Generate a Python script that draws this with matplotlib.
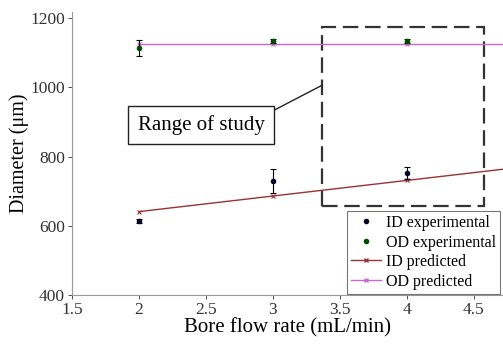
import matplotlib
matplotlib.use('Agg')
from matplotlib import pyplot as plt
from matplotlib.patches import Rectangle
from matplotlib.lines import Line2D

plt.rcParams['font.family'] = ['Liberation Serif', 'DejaVu Serif']

flow = [2, 3, 4]
id_exp = [615, 730, 753]
id_err = [6, 35, 17]
od_exp = [1113, 1133, 1133]
od_err = [23, 5, 5]
id_pred = [641, 686, 731]
od_pred = [1125, 1125, 1125]

# trend lines carried on to the right edge
line_x = [2, 4.72]
id_line = [641, 641 + 45 * 2.72]
od_line = [1125, 1125]

fig = plt.figure(figsize=(5.03, 3.44), dpi=100)
ax = fig.add_axes([0.143, 0.142, 0.857, 0.823])

ax.plot(line_x, id_line, color='#993333', lw=1.0)
ax.plot(line_x, od_line, color='#cc66cc', lw=1.0)
ax.plot(flow, id_pred, ls='none', marker='x', ms=3, mew=0.8, color='#993333')
ax.plot(flow, od_pred, ls='none', marker='x', ms=3, mew=0.8, color='#cc66cc')
ax.errorbar(flow, id_exp, yerr=id_err, fmt='o', ms=3, color='#000022', ecolor='black',
            elinewidth=0.8, capsize=2.5, capthick=0.8)
ax.errorbar(flow, od_exp, yerr=od_err, fmt='o', ms=3, color='#004d00', ecolor='black',
            elinewidth=0.8, capsize=2.5, capthick=0.8)

ax.set_xlim(1.5, 4.72)
ax.set_ylim(400, 1217)
ax.set_xticks([1.5, 2, 2.5, 3, 3.5, 4, 4.5])
ax.set_xticklabels(['1.5', '2', '2.5', '3', '3.5', '4', '4.5'])
ax.set_yticks([400, 600, 800, 1000, 1200])
ax.set_xlabel('Bore flow rate (mL/min)', fontsize=15, labelpad=0)
ax.set_ylabel('Diameter (\u03bcm)', fontsize=14.5, labelpad=1)
ax.tick_params(labelsize=12.5, colors='#333333', length=3, width=0.6, pad=2)
for side in ['top', 'right']:
    ax.spines[side].set_visible(False)
for side in ['left', 'bottom']:
    ax.spines[side].set_color('#999999')
    ax.spines[side].set_linewidth(0.8)

# range of study box
ax.add_patch(Rectangle((3.37, 658), 4.58 - 3.37, 1174 - 658, fill=False,
                       ls=(0, (7, 3)), lw=1.6, color='#333333', clip_on=False))
ax.annotate('Range of study', xy=(3.37, 1006), xytext=(2.94, 891),
            fontsize=15, ha='right', va='center',
            bbox=dict(boxstyle='square,pad=0.45', fc='white', ec='#222222', lw=1.0),
            arrowprops=dict(arrowstyle='-', color='#222222', lw=1.0,
                            shrinkA=0, shrinkB=0, relpos=(1, 1)))

handles = [Line2D([], [], ls='none', marker='o', ms=3, color='#000022'),
           Line2D([], [], ls='none', marker='o', ms=3, color='#004d00'),
           Line2D([], [], color='#993333', lw=1.0, marker='x', ms=3),
           Line2D([], [], color='#cc66cc', lw=1.0, marker='x', ms=3)]
leg = ax.legend(handles, ['ID experimental', 'OD experimental', 'ID predicted', 'OD predicted'],
                loc='upper left', bbox_to_anchor=(0.637, 0.297), fontsize=11.5,
                frameon=True, fancybox=False, edgecolor='#555555', handlelength=1.9,
                handletextpad=0.3, borderpad=0.25, labelspacing=0.22, borderaxespad=0)
leg.get_frame().set_linewidth(0.8)

plt.savefig('out.png', dpi=100)
